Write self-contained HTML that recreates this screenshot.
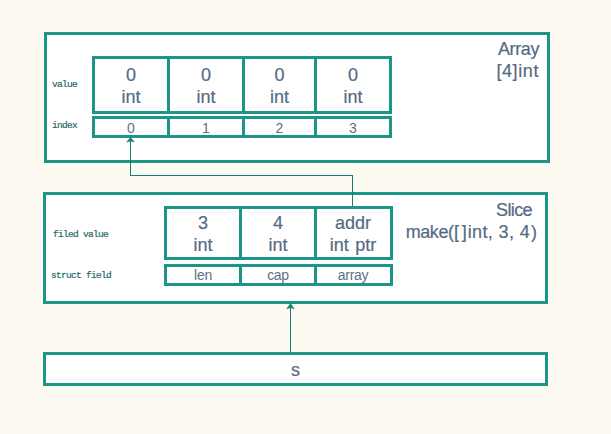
<!DOCTYPE html>
<html><head><meta charset="utf-8">
<style>
html,body{margin:0;padding:0;}
body{width:611px;height:434px;background:#fdfaf2;position:relative;overflow:hidden;font-family:"Liberation Sans",sans-serif;color:#546a83;-webkit-text-stroke:0.2px #546a83;}
.b{position:absolute;box-sizing:border-box;border:3px solid #1b9688;background:#fff;}
.v{position:absolute;background:#1b9688;width:3px;}
.t{position:absolute;text-align:center;font-size:18px;line-height:22px;white-space:nowrap;}
.s{position:absolute;text-align:center;font-size:14px;line-height:16px;white-space:nowrap;color:#5d6f86;-webkit-text-stroke:0;}
.m{position:absolute;font-family:"Liberation Mono",monospace;font-size:9.5px;letter-spacing:-0.7px;line-height:12px;white-space:nowrap;color:#1d6a68;-webkit-text-stroke:0.2px #1d6a68;}
.r{position:absolute;text-align:right;font-size:18px;line-height:22px;white-space:nowrap;}
.ln{position:absolute;background:#148073;}
</style></head><body>
<!-- Array box -->
<div class="b" style="left:44px;top:32px;width:506px;height:131px;"></div>
<div class="b" style="left:92px;top:56px;width:300px;height:58px;"></div>
<div class="v" style="left:167px;top:56px;height:58px;"></div>
<div class="v" style="left:242px;top:56px;height:58px;"></div>
<div class="v" style="left:314px;top:56px;height:58px;"></div>
<div class="b" style="left:92px;top:116px;width:300px;height:22px;"></div>
<div class="v" style="left:167px;top:116px;height:22px;"></div>
<div class="v" style="left:242px;top:116px;height:22px;"></div>
<div class="v" style="left:314px;top:116px;height:22px;"></div>

<div class="t" style="left:95px;top:64px;width:72px;">0<br>int</div>
<div class="t" style="left:170px;top:64px;width:72px;">0<br>int</div>
<div class="t" style="left:245px;top:64px;width:69px;">0<br>int</div>
<div class="t" style="left:317px;top:64px;width:72px;">0<br>int</div>

<div class="s" style="left:95px;top:120px;width:72px;">0</div>
<div class="s" style="left:170px;top:120px;width:72px;">1</div>
<div class="s" style="left:245px;top:120px;width:69px;">2</div>
<div class="s" style="left:317px;top:120px;width:72px;">3</div>

<div class="m" style="left:52px;top:79px;">value</div>
<div class="m" style="left:52px;top:120px;">index</div>

<div class="r" style="left:400px;top:38px;width:139px;letter-spacing:-0.4px;">Array</div>
<div class="r" style="left:400px;top:60px;width:139px;letter-spacing:0.6px;">[4]int</div>

<!-- Slice box -->
<div class="b" style="left:43px;top:192px;width:505px;height:112px;"></div>
<div class="b" style="left:164px;top:206px;width:229px;height:54px;"></div>
<div class="v" style="left:239px;top:206px;height:54px;"></div>
<div class="v" style="left:314px;top:206px;height:54px;"></div>
<div class="b" style="left:164px;top:264px;width:229px;height:22px;"></div>
<div class="v" style="left:239px;top:264px;height:22px;"></div>
<div class="v" style="left:314px;top:264px;height:22px;"></div>

<div class="t" style="left:167px;top:212px;width:72px;">3<br>int</div>
<div class="t" style="left:242px;top:212px;width:72px;">4<br>int</div>
<div class="t" style="left:317px;top:212px;width:72px;">addr<br><span style="word-spacing:1.5px">int ptr</span></div>

<div class="s" style="left:167px;top:267px;width:72px;letter-spacing:-0.3px;">len</div>
<div class="s" style="left:242px;top:267px;width:72px;letter-spacing:-0.3px;">cap</div>
<div class="s" style="left:317px;top:267px;width:72px;letter-spacing:-0.3px;">array</div>

<div class="m" style="left:53px;top:229px;">filed value</div>
<div class="m" style="left:51px;top:270px;">struct field</div>

<div class="r" style="left:380px;top:199px;width:152px;letter-spacing:-0.6px;">Slice</div>
<div class="r" style="left:405.7px;top:221px;text-align:left;"><span style="letter-spacing:-0.43px">make</span>(<span style="letter-spacing:2.7px">[</span><span style="letter-spacing:1px">]</span><span style="letter-spacing:0.35px">int, </span><span style="letter-spacing:0.4px">3, </span><span style="letter-spacing:1.2px">4</span>)</div>

<!-- s box -->
<div class="b" style="left:43px;top:352px;width:505px;height:34px;"></div>
<div class="t" style="left:43px;top:359px;width:505px;">s</div>

<!-- connectors -->
<div class="ln" style="left:352px;top:175px;width:1px;height:31px;"></div>
<div class="ln" style="left:130px;top:175px;width:223px;height:1px;"></div>
<div class="ln" style="left:130px;top:138px;width:1px;height:38px;"></div>
<div class="ln" style="left:290px;top:304px;width:1px;height:48px;"></div>
<svg style="position:absolute;left:0;top:0" width="611" height="434">
<path d="M130.5 137.5 L134.2 142 L130.5 141 L126.8 142 Z" fill="#148073" stroke="#148073" stroke-width="0.6" stroke-linejoin="round"/>
<path d="M290.5 303.5 L294.2 308.8 L290.5 307.6 L286.8 308.8 Z" fill="#148073" stroke="#148073" stroke-width="0.6" stroke-linejoin="round"/>
</svg>
</body></html>
